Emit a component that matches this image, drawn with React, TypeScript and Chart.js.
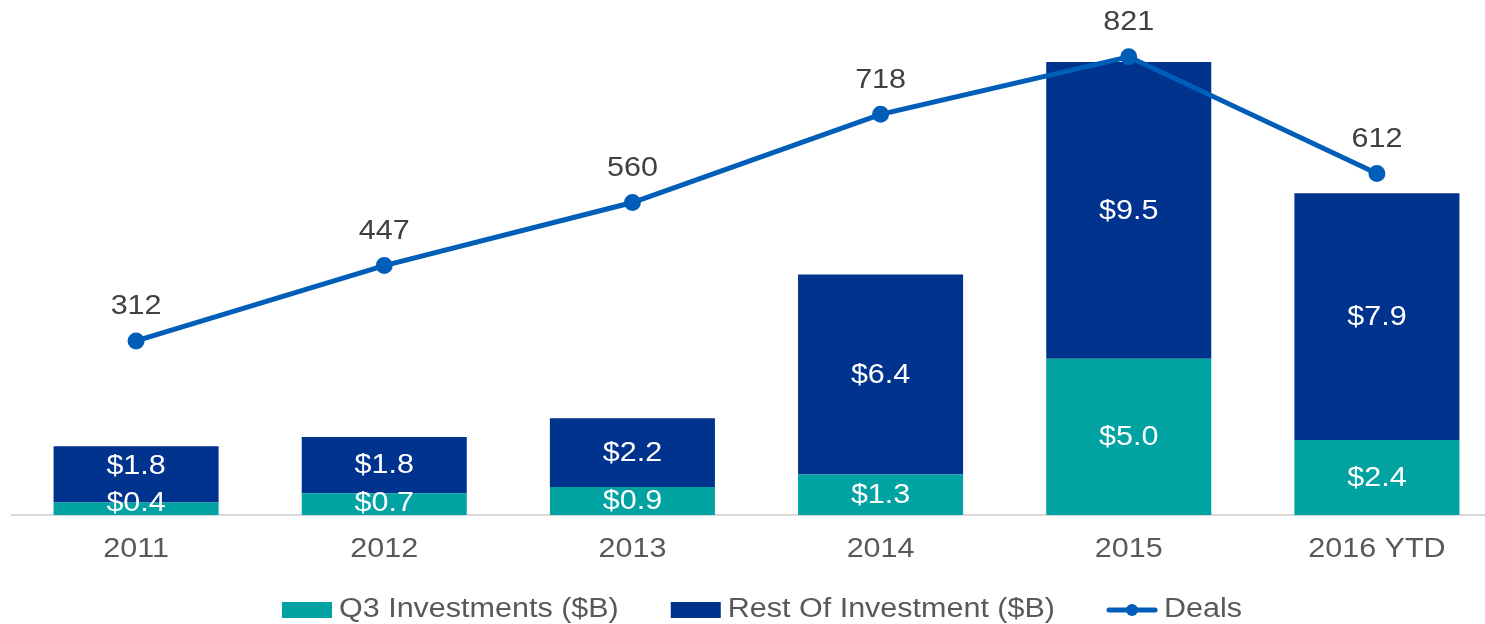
import React, { useEffect, useRef } from "react";
import { Chart, registerables } from "chart.js";

Chart.register(...registerables);

const categories = ["2011", "2012", "2013", "2014", "2015", "2016 YTD"];
const q3Investments = [0.4, 0.7, 0.9, 1.3, 5.0, 2.4];
const restOfInvestment = [1.8, 1.8, 2.2, 6.4, 9.5, 7.9];
const deals = [312, 447, 560, 718, 821, 612];
const seriesNames = ["Q3 Investments ($B)", "Rest Of Investment ($B)", "Deals"];

const TEAL = "#00A3A1";
const NAVY = "#00338D";
const LINE = "#005EB8";
const FONT = "'Liberation Sans', Arial, sans-serif";
const SX = 1.13;

function drawText(ctx: any, text: string, x: number, y: number, align: string) {
  ctx.save();
  ctx.translate(x, y);
  ctx.scale(SX, 1);
  ctx.textAlign = align;
  ctx.fillText(text, 0, 0);
  ctx.restore();
}

const labelPlugin = {
  id: "customLabels",
  afterDatasetsDraw(chart: any) {
    const ctx = chart.ctx;
    ctx.save();
    ctx.font = `27px ${FONT}`;
    ctx.textBaseline = "middle";
    const lowerMeta = chart.getDatasetMeta(0);
    const upperMeta = chart.getDatasetMeta(1);
    const lowerVals = chart.data.datasets[0].data as number[];
    const upperVals = chart.data.datasets[1].data as number[];
    ctx.fillStyle = "#FFFFFF";
    lowerMeta.data.forEach((bar: any, j: number) => {
      const lb = bar.getProps(["x", "y", "base"], true);
      const lowerCy = Math.min((lb.y + lb.base) / 2, lb.base - 12);
      const ub = upperMeta.data[j].getProps(["x", "y", "base"], true);
      const upperCy = Math.min((ub.y + ub.base) / 2, lowerCy - 37);
      drawText(ctx, "$" + lowerVals[j].toFixed(1), lb.x, lowerCy + 1, "center");
      drawText(ctx, "$" + upperVals[j].toFixed(1), ub.x, upperCy + 1, "center");
    });
    const lmeta = chart.getDatasetMeta(2);
    const lvals = chart.data.datasets[2].data as number[];
    ctx.fillStyle = "#404040";
    lmeta.data.forEach((pt: any, j: number) => {
      drawText(ctx, String(lvals[j]), pt.x, pt.y - 34, "center");
    });
    ctx.restore();
  },
  afterDraw(chart: any) {
    const ctx = chart.ctx;
    ctx.save();
    ctx.font = `27px ${FONT}`;
    ctx.textBaseline = "middle";
    // category labels
    const xs = chart.scales.x;
    ctx.fillStyle = "#595959";
    categories.forEach((c, i) => {
      drawText(ctx, c, xs.getPixelForValue(i), 550, "center");
    });
    // legend
    const boxW = 50;
    const boxH = 16;
    const textGap = 7;
    const itemGap = 52;
    const widths = seriesNames.map((n) => boxW + textGap + ctx.measureText(n).width * SX);
    const total = widths.reduce((a, b) => a + b, 0) + itemGap * (widths.length - 1);
    let x = 762 - total / 2;
    const cy = 610;
    seriesNames.forEach((name, i) => {
      if (i < 2) {
        ctx.fillStyle = i === 0 ? TEAL : NAVY;
        ctx.fillRect(x, cy - boxH / 2, boxW, boxH);
      } else {
        ctx.strokeStyle = LINE;
        ctx.lineWidth = 5;
        ctx.lineCap = "round";
        ctx.beginPath();
        ctx.moveTo(x + 2, cy);
        ctx.lineTo(x + boxW - 2, cy);
        ctx.stroke();
        ctx.fillStyle = LINE;
        ctx.beginPath();
        ctx.arc(x + boxW / 2, cy, 6, 0, Math.PI * 2);
        ctx.fill();
      }
      ctx.fillStyle = "#595959";
      drawText(ctx, name, x + boxW + textGap, cy, "left");
      x += widths[i] + itemGap;
    });
    ctx.restore();
  },
};

export default function App() {
  const ref = useRef<HTMLCanvasElement | null>(null);
  useEffect(() => {
    if (!ref.current) return;
    const chart = new Chart(ref.current, {
      type: "bar",
      data: {
        labels: categories,
        datasets: [
          {
            type: "bar",
            label: seriesNames[0],
            data: q3Investments,
            backgroundColor: TEAL,
            stack: "inv",
            yAxisID: "y",
            order: 1,
            categoryPercentage: 1,
            barPercentage: 0.665,
          },
          {
            type: "bar",
            label: seriesNames[1],
            data: restOfInvestment,
            backgroundColor: NAVY,
            stack: "inv",
            yAxisID: "y",
            order: 1,
            categoryPercentage: 1,
            barPercentage: 0.665,
          },
          {
            type: "line",
            label: seriesNames[2],
            data: deals,
            borderColor: LINE,
            backgroundColor: LINE,
            pointBackgroundColor: LINE,
            pointBorderColor: LINE,
            pointRadius: 6,
            borderWidth: 5,
            yAxisID: "y1",
            order: 0,
          },
        ],
      } as any,
      options: {
        responsive: false,
        animation: false,
        layout: { padding: { left: 12, right: 9, top: 15, bottom: 49 } },
        plugins: {
          legend: { display: false },
          tooltip: { enabled: false },
        },
        scales: {
          x: {
            stacked: true,
            grid: { display: false, drawTicks: false },
            border: { display: true, color: "#D9D9D9", width: 2 },
            ticks: { display: false },
            afterFit(scale: any) {
              scale.height = 60;
            },
          },
          y: {
            display: false,
            stacked: true,
            min: 0,
            max: 16,
          },
          y1: {
            display: false,
            min: 0,
            max: 896,
          },
        },
      } as any,
      plugins: [labelPlugin],
    });
    return () => chart.destroy();
  }, []);
  return (
    <div style={{ position: "absolute", left: 0, top: 0, width: 1485, height: 624, overflow: "hidden", background: "#fff" }}>
      <canvas ref={ref} width={1512} height={624} style={{ display: "block" }} />
    </div>
  );
}
